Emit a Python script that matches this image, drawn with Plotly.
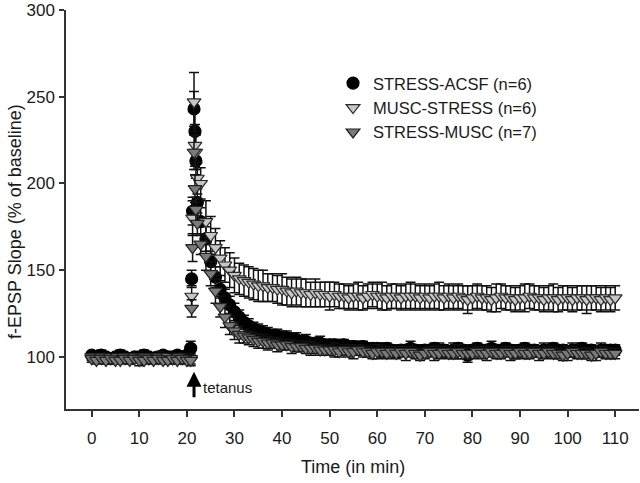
import plotly.graph_objects as go

# ---- time grid (min) ----
time_base = [0, 1, 2, 3, 4, 5, 6, 7, 8, 9, 10, 11, 12, 13, 14, 15, 16, 17, 18, 19, 20]
time_dense = [20.8, 21.0, 21.2, 21.5, 21.7, 21.9, 22.2, 22.9]
time_post = list(range(24, 111))

# ---- STRESS-ACSF (n=6) ----
acsf_base = [101, 100, 101, 100, 99, 100, 101, 100, 99, 100, 100, 101, 100, 99, 100, 101, 100, 100, 101, 100, 101]
acsf_dense = [105, 145, 184, 243, 230, 213, 189, 178]
acsf_post = [168, 155, 146, 139, 134, 130, 126, 123, 120, 118,
             116, 115, 114, 113, 112, 112, 111, 111, 110, 110,
             109, 109, 108, 108, 108, 107, 107, 107, 106, 107,
             106, 106, 105, 106, 105, 105, 105, 104, 105, 104,
             103, 104, 104, 105, 104, 103, 104, 104, 105, 104,
             104, 103, 104, 105, 104, 101, 104, 105, 104, 104,
             105, 104, 104, 105, 104, 103, 104, 105, 104, 104,
             103, 104, 104, 105, 104, 104, 103, 104, 104, 105,
             104, 104, 103, 104, 104, 104, 104]
acsf_err_base = [2, 2, 3, 2, 2, 2, 3, 2, 2, 2, 2, 3, 2, 2, 2, 2, 3, 2, 2, 2, 2]
acsf_err_dense = [4, 5, 8, 10, 12, 10, 8, 8]
acsf_err_post = [7, 6, 6, 5, 5, 5, 5, 4, 4, 4,
                 4, 4, 4, 4, 4, 4, 4, 4, 4, 4,
                 3, 4, 3, 3, 4, 3, 3, 3, 4, 3,
                 3, 3, 4, 3, 3, 3, 3, 4, 3, 3,
                 3, 3, 3, 4, 3, 3, 3, 3, 3, 4,
                 3, 3, 4, 3, 3, 4, 3, 3, 3, 3,
                 4, 3, 3, 3, 3, 4, 3, 3, 3, 3,
                 3, 4, 3, 3, 3, 3, 3, 4, 3, 3,
                 3, 3, 3, 4, 3, 3, 3]

# ---- MUSC-STRESS (n=6) ----
ms_base = [100, 99, 100, 99, 100, 99, 99, 100, 99, 100, 99, 100, 99, 99, 100, 99, 100, 99, 100, 99, 99]
ms_dense = [99, 135, 180, 247, 222, 218, 203, 200]
ms_post = [178, 170, 163, 157, 153, 150, 147, 145, 144, 143,
           142, 141, 141, 140, 140, 139, 139, 138, 137, 138,
           137, 137, 136, 137, 136, 136, 135, 136, 135, 135,
           134, 135, 135, 134, 135, 136, 135, 135, 134, 135,
           135, 134, 135, 135, 135, 134, 135, 134, 135, 135,
           134, 135, 134, 135, 134, 133, 134, 135, 134, 134,
           133, 134, 135, 134, 134, 133, 134, 134, 135, 134,
           134, 133, 134, 134, 133, 134, 134, 133, 134, 134,
           133, 134, 134, 133, 134, 133, 134]
ms_err_base = [2, 2, 2, 3, 2, 2, 2, 2, 3, 2, 2, 2, 2, 2, 3, 2, 2, 2, 2, 3, 2]
ms_err_dense = [3, 6, 10, 17, 12, 10, 9, 9]
ms_err_post = [12, 11, 11, 10, 10, 10, 10, 9, 9, 9,
               9, 9, 9, 8, 8, 8, 9, 8, 8, 8,
               8, 8, 7, 8, 7, 7, 8, 7, 7, 7,
               7, 7, 8, 7, 7, 7, 7, 8, 7, 7,
               7, 7, 7, 8, 7, 7, 7, 7, 7, 8,
               7, 7, 7, 7, 7, 8, 7, 7, 7, 7,
               7, 8, 7, 7, 7, 7, 7, 8, 7, 7,
               7, 7, 7, 8, 7, 7, 7, 7, 7, 7,
               8, 7, 7, 7, 7, 7, 7]

# ---- STRESS-MUSC (n=7) ----
sm_base = [99, 98, 99, 98, 99, 98, 98, 99, 98, 99, 98, 98, 99, 98, 99, 98, 98, 99, 98, 99, 98]
sm_dense = [98, 128, 163, 218, 197, 185, 177, 165]
sm_post = [158, 148, 138, 129, 123, 118, 115, 113, 112, 111,
           110, 109, 109, 108, 108, 107, 107, 107, 106, 106,
           106, 105, 105, 105, 104, 104, 104, 104, 103, 104,
           103, 103, 104, 103, 103, 102, 103, 103, 102, 103,
           102, 103, 102, 103, 102, 101, 102, 103, 102, 102,
           103, 102, 102, 103, 102, 102, 102, 103, 102, 102,
           103, 102, 102, 103, 102, 102, 103, 102, 102, 103,
           102, 102, 103, 102, 102, 101, 102, 103, 102, 102,
           102, 101, 102, 103, 102, 102, 102]
sm_err_base = [2, 2, 2, 2, 3, 2, 2, 2, 2, 2, 3, 2, 2, 2, 2, 2, 2, 3, 2, 2, 2]
sm_err_dense = [3, 5, 8, 10, 8, 7, 6, 6]
sm_err_post = [8, 7, 7, 6, 6, 5, 5, 5, 4, 4,
               4, 4, 4, 4, 3, 4, 3, 3, 4, 3,
               3, 3, 4, 3, 3, 3, 3, 4, 3, 3,
               3, 4, 3, 3, 3, 3, 4, 3, 3, 3,
               3, 3, 4, 3, 3, 3, 3, 3, 4, 3,
               3, 3, 3, 4, 3, 3, 3, 3, 3, 4,
               3, 3, 3, 3, 4, 3, 3, 3, 3, 3,
               4, 3, 3, 3, 3, 3, 4, 3, 3, 3,
               3, 3, 4, 3, 3, 3, 3]

series_names = ["STRESS-ACSF (n=6)", "MUSC-STRESS (n=6)", "STRESS-MUSC (n=7)"]
x_ticks = [0, 10, 20, 30, 40, 50, 60, 70, 80, 90, 100, 110]
y_ticks = [100, 150, 200, 250, 300]

t_all = time_base + time_dense + time_post
FONT = "Liberation Sans, Arial, sans-serif"
TXT = "#1a1a1a"

fig = go.Figure()

def add_series(name, y, err, symbol, fill, line):
    fig.add_trace(go.Scatter(
        x=t_all, y=y, name=name, mode="markers",
        marker=dict(symbol=symbol, size=12, color=fill, line=dict(color=line, width=1.2)),
        error_y=dict(type="data", array=err, visible=True, color="#111111", thickness=1.5, width=5),
    ))

add_series(series_names[0], acsf_base + acsf_dense + acsf_post,
           acsf_err_base + acsf_err_dense + acsf_err_post, "circle", "#000000", "#000000")
add_series(series_names[1], ms_base + ms_dense + ms_post,
           ms_err_base + ms_err_dense + ms_err_post, "triangle-down", "#c6c6c6", "#2a2a2a")
add_series(series_names[2], sm_base + sm_dense + sm_post,
           sm_err_base + sm_err_dense + sm_err_post, "triangle-down", "#7a7a7a", "#222222")

# tetanus arrow + label
fig.add_annotation(x=21.5, y=91.5, xref="x", yref="y", text="", showarrow=True,
                   ax=0, ay=27, arrowhead=2, arrowsize=1, arrowwidth=3, arrowcolor="#000000", standoff=0)
fig.add_annotation(x=23.0, y=82.5, xref="x", yref="y", text="tetanus", showarrow=False,
                   xanchor="left", yanchor="middle", font=dict(family=FONT, size=15, color=TXT))

# axis titles as annotations
fig.add_annotation(x=0.5, y=-0.145, xref="paper", yref="paper", text="Time (in min)", showarrow=False,
                   xanchor="center", yanchor="middle", font=dict(family=FONT, size=18, color=TXT))
fig.add_annotation(x=-0.088, y=0.47, xref="paper", yref="paper", text="f-EPSP Slope (% of baseline)",
                   showarrow=False, textangle=-90, xanchor="center", yanchor="middle",
                   font=dict(family=FONT, size=18, color=TXT))

fig.update_layout(
    width=640, height=483,
    margin=dict(l=66, r=1, t=10, b=74),
    paper_bgcolor="white", plot_bgcolor="white",
    font=dict(family=FONT, size=17, color=TXT),
    showlegend=True,
    legend=dict(x=0.466, y=0.86, xanchor="left", yanchor="top", bgcolor="rgba(0,0,0,0)",
                font=dict(family=FONT, size=16.5, color=TXT), tracegroupgap=0),
    xaxis=dict(range=[-5.4, 115], tickmode="array", tickvals=x_ticks, ticktext=[str(v) for v in x_ticks],
               showgrid=False, zeroline=False, showline=True, linecolor="#333333", linewidth=1.5,
               ticks="outside", ticklen=6, tickwidth=1.5, tickcolor="#333333", ticklabelstandoff=7),
    yaxis=dict(range=[70, 300], tickmode="array", tickvals=y_ticks, ticktext=[str(v) for v in y_ticks],
               showgrid=False, zeroline=False, showline=True, linecolor="#333333", linewidth=1.5,
               ticks="outside", ticklen=5, tickwidth=1.5, tickcolor="#333333", ticklabelstandoff=1),
)

fig.write_html("out.html", config={"displayModeBar": False},
               post_script="document.body.style.margin='0';")
